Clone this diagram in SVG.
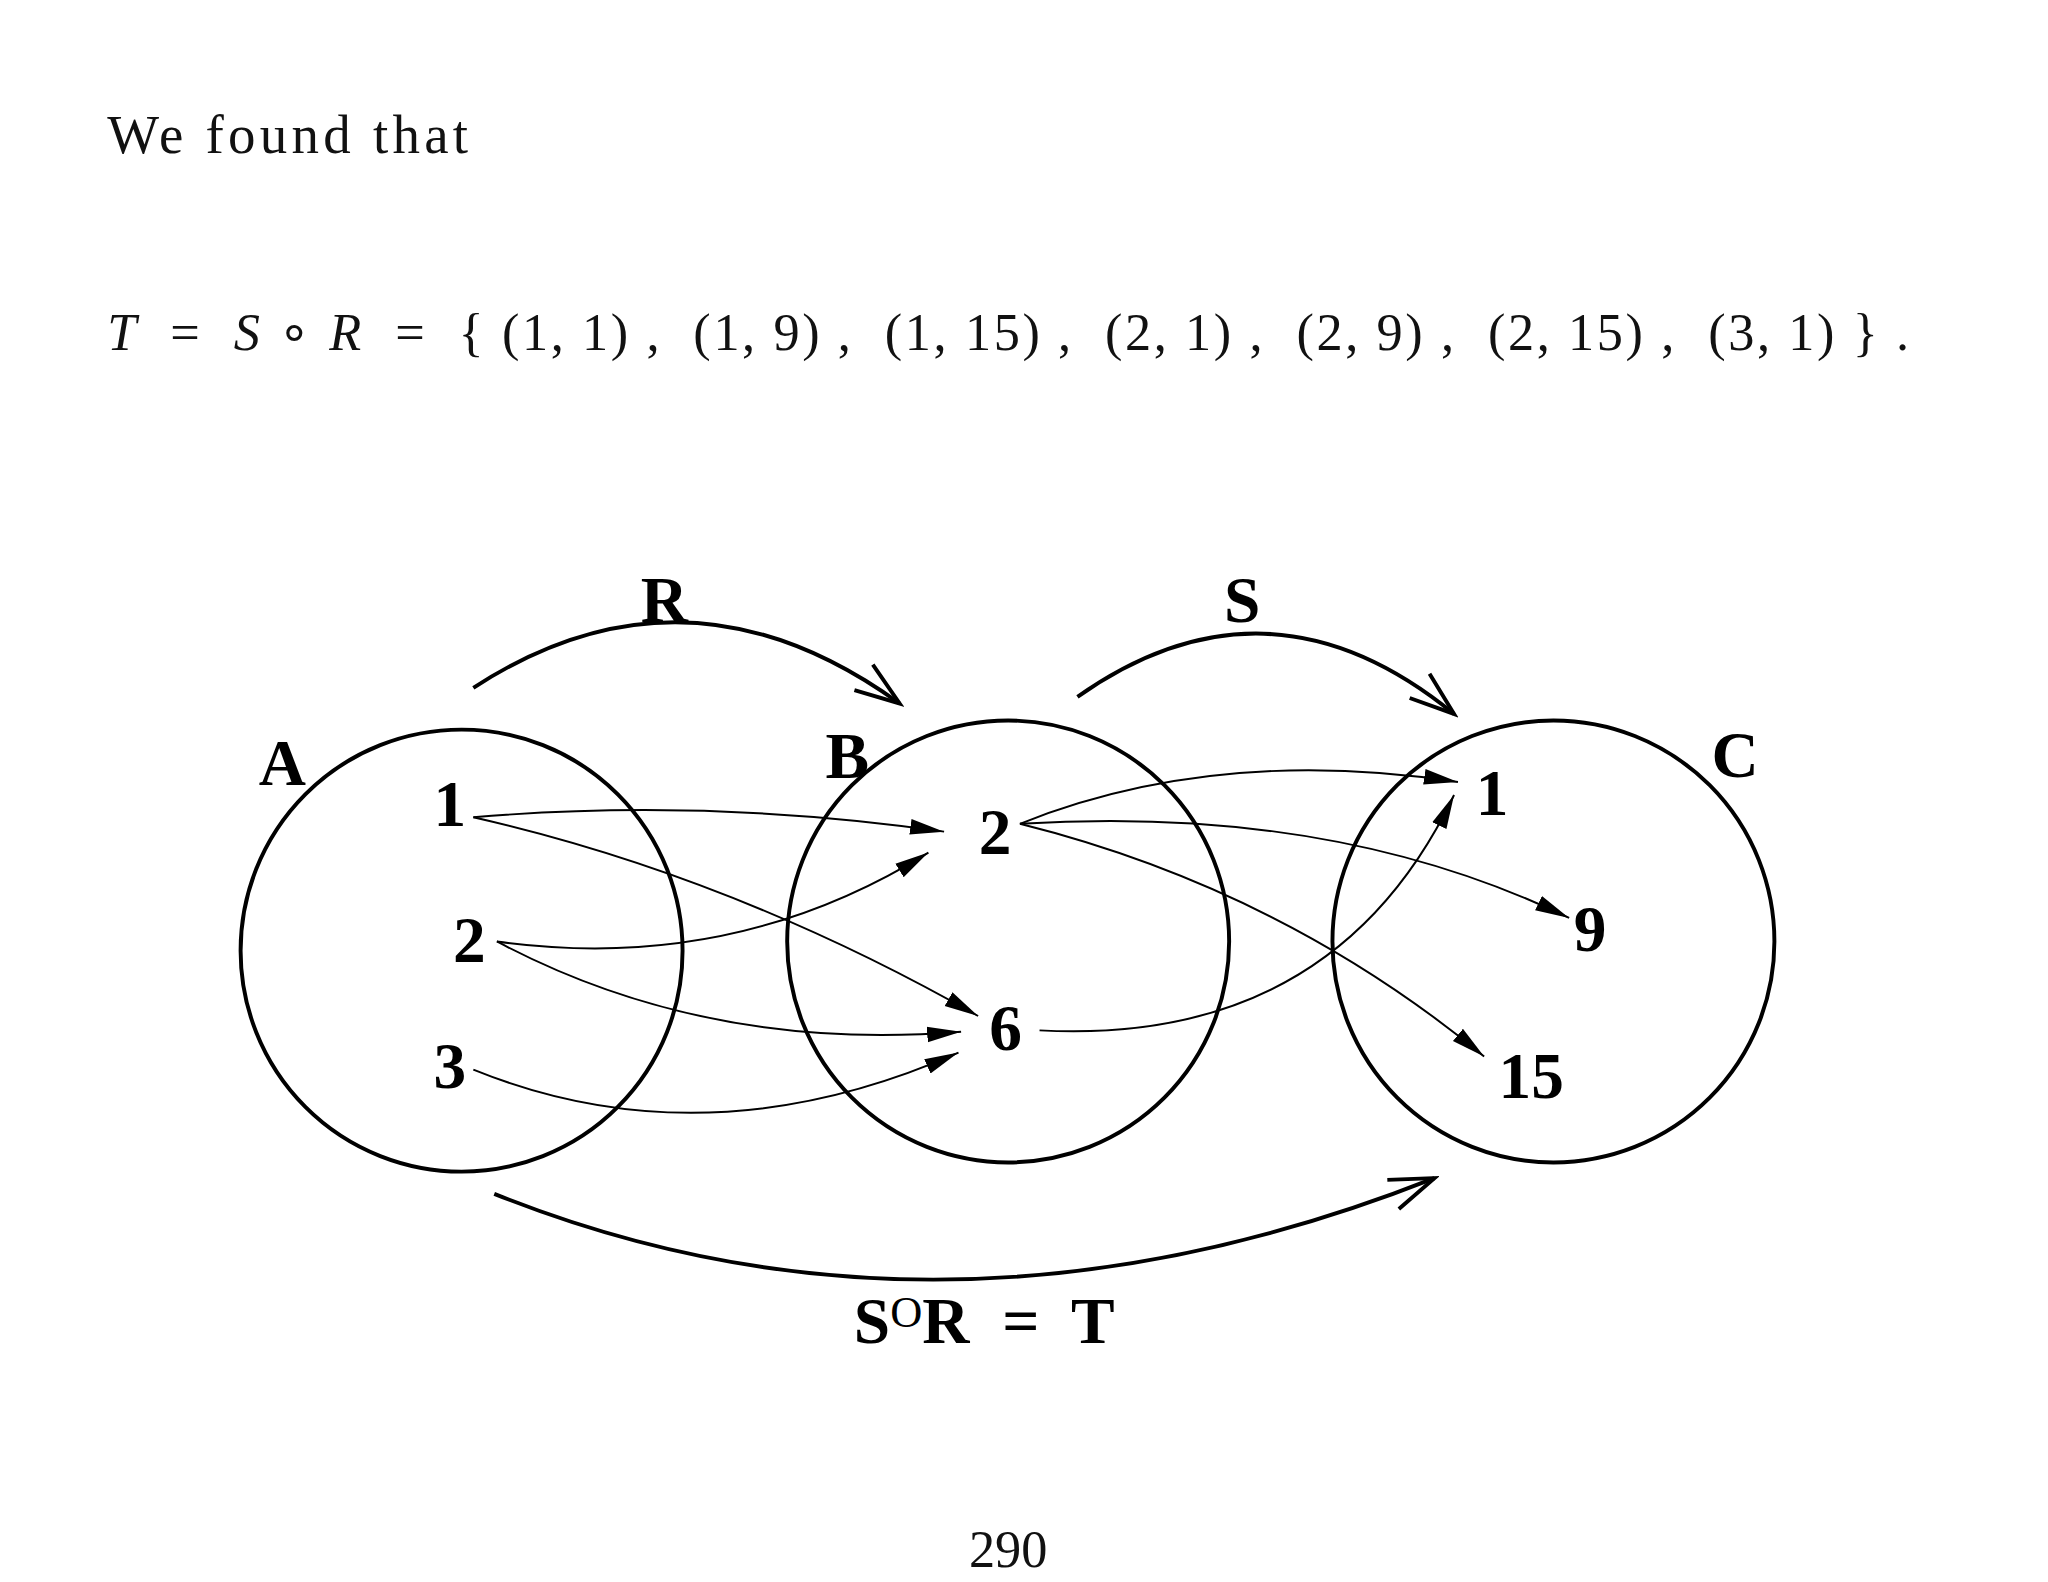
<svg xmlns="http://www.w3.org/2000/svg" width="2048" height="1582" viewBox="0 0 2048 1582">
<style>
.t{font-family:"Liberation Serif",serif;fill:#111}
.b{font-family:"Liberation Serif",serif;font-weight:bold;font-size:50px;fill:#000}
.c{fill:none;stroke:#000;stroke-width:3}
.e{fill:none;stroke:#000;stroke-width:1.5;marker-end:url(#fa)}
.k{fill:none;stroke:#000;stroke-width:3;marker-end:url(#oa)}
</style>
<defs>
<marker id="fa" markerUnits="userSpaceOnUse" markerWidth="30" markerHeight="20" refX="26" refY="8" orient="auto" viewBox="0 0 30 16"><path d="M0,2 L26,8 L0,14 Z" fill="#000"/></marker>
<marker id="oa" markerUnits="userSpaceOnUse" markerWidth="40" markerHeight="30" refX="36" refY="14" orient="auto" viewBox="0 0 40 28"><path d="M2,2 L36,14 L2,26" fill="none" stroke="#000" stroke-width="3"/></marker>
</defs>
<rect width="2048" height="1582" fill="#fff"/>
<g transform="scale(1.3076)">
<text class="t" x="82" y="117" font-size="42" textLength="276" lengthAdjust="spacing">We found that</text>
<text class="t" x="82" y="268" font-size="40" xml:space="preserve" textLength="1378" lengthAdjust="spacing"><tspan font-style="italic">T</tspan>  =  <tspan font-style="italic">S</tspan> ∘ <tspan font-style="italic">R</tspan>  =  { (1, 1) ,  (1, 9) ,  (1, 15) ,  (2, 1) ,  (2, 9) ,  (2, 15) ,  (3, 1) } .</text>
<text class="t" x="771" y="1198" font-size="40" text-anchor="middle">290</text>
<g id="setA"><circle class="c" cx="353" cy="727" r="169"/><text class="b" x="216" y="600" text-anchor="middle">A</text>
<text class="b" x="344" y="632" text-anchor="middle">1</text><text class="b" x="359" y="736" text-anchor="middle">2</text><text class="b" x="344" y="832" text-anchor="middle">3</text></g>
<g id="setB"><circle class="c" cx="771" cy="720" r="169"/><text class="b" x="648" y="595" text-anchor="middle">B</text>
<text class="b" x="761" y="653" text-anchor="middle">2</text><text class="b" x="769" y="803" text-anchor="middle">6</text></g>
<g id="setC"><circle class="c" cx="1188" cy="720" r="169"/><text class="b" x="1327" y="594" text-anchor="middle">C</text>
<text class="b" x="1141" y="623" text-anchor="middle">1</text><text class="b" x="1216" y="727" text-anchor="middle">9</text><text class="b" x="1171" y="840" text-anchor="middle">15</text></g>
<g id="labels"><text class="b" x="508" y="476" text-anchor="middle">R</text><text class="b" x="950" y="476" text-anchor="middle">S</text>
<text class="b" x="653" y="1027" xml:space="preserve">S<tspan font-weight="normal" font-size="34" dy="-12">O</tspan><tspan dy="12">R  =  T</tspan></text></g>
<g id="connectors">
<path class="k" d="M362,526 Q525,420 688,538"/>
<path class="k" d="M824,533 Q970,430 1112,546"/>
<path class="k" d="M378,913 Q720,1050 1097,901"/>
<path class="e" d="M362,625 Q540,610 722,636"/>
<path class="e" d="M362,625 Q560,670 748,777"/>
<path class="e" d="M380,720 Q560,745 710,652"/>
<path class="e" d="M380,720 Q540,805 735,789"/>
<path class="e" d="M362,818 Q540,890 733,805"/>
<path class="e" d="M780,630 Q930,570 1115,598"/>
<path class="e" d="M780,630 Q1020,615 1200,702"/>
<path class="e" d="M780,630 Q980,680 1135,808"/>
<path class="e" d="M795,788 Q1020,800 1112,608"/>
</g>
</g>
</svg>
